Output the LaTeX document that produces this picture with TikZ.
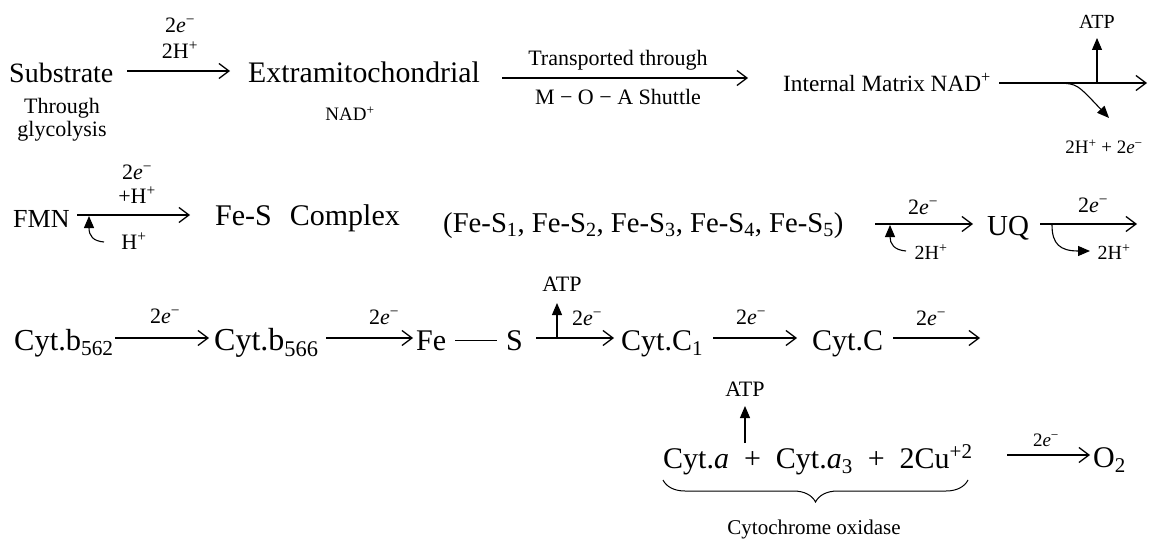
\documentclass[tikz,border=0pt]{standalone}
\usepackage{fontspec}
\setmainfont{Liberation Serif}
\usetikzlibrary{arrows.meta,decorations.pathreplacing}
\newcommand\mysz[1]{\fontsize{#1}{#1}\selectfont}
\newcommand\elec{2\textit{e}\textsuperscript{−}}
\tikzset{
  txt/.style={inner sep=0pt, anchor=base west},
  lbl/.style={inner sep=0pt, font=\mysz{22}},
  arr/.style={line width=1.3pt, -{Straight Barb[length=10pt,width=15pt,line width=1.3pt]}},
  tri/.style={line width=1.1pt, -{Triangle[length=12pt,width=10pt]}},
}
\begin{document}
\begin{tikzpicture}[x=1pt,y=-1pt]
\fill[white] (0,0) rectangle (1150,540);
\useasboundingbox (0,0) rectangle (1150,540);

% ---------- Row 1 ----------
\node[txt,font=\mysz{28}] (sub) at (9,83) {Substrate};
\node[lbl] (thr) at (62,108) {Through};
\node[lbl] (gly) at (62,131) {glycolysis};
\coordinate (a1s) at (127,71); \coordinate (a1e) at (230,71);
\draw[arr] (a1s) -- (a1e);
\node[lbl] (a1l1) at (180,25) {\elec};
\node[lbl] (a1l2) at (180,50) {2H\textsuperscript{+}};
\node[txt,font=\mysz{29.8}] (extra) at (248,83) {Extramitochondrial};
\node[lbl,font=\mysz{19}] (nad1) at (350,114) {NAD\textsuperscript{+}};
\coordinate (a2s) at (502,78); \coordinate (a2e) at (748,78);
\draw[arr] (a2s) -- (a2e);
\node[lbl] (a2l1) at (618,60) {Transported through};
\node[lbl] (a2l2) at (618,97) {M − O − A Shuttle};
\node[txt,font=\mysz{23.3}] (inm) at (783,92) {Internal Matrix NAD\textsuperscript{+}};
\coordinate (a3s) at (999,83); \coordinate (a3e) at (1147,83);
\draw[arr] (a3s) -- (a3e);
\coordinate (atp1b) at (1097,83); \coordinate (atp1t) at (1097,38);
\draw[tri] (atp1b) -- (atp1t);
\node[lbl,font=\mysz{20}] (atp1) at (1097,22) {ATP};
\coordinate (d1s) at (1060,83); \coordinate (d1e) at (1109,118);
\draw[tri] (d1s) .. controls (1077,84) .. (d1e);
\node[lbl,font=\mysz{19}] (hl1) at (1104,147) {2H\textsuperscript{+} + \elec};

% ---------- Row 2 ----------
\node[txt,font=\mysz{26}] (fmn) at (13,227) {FMN};
\coordinate (b1s) at (77,215); \coordinate (b1e) at (190,215);
\draw[arr] (b1s) -- (b1e);
\node[lbl] (b1l1) at (137,172) {\elec};
\node[lbl] (b1l2) at (137,195) {+H\textsuperscript{+}};
\coordinate (h1s) at (104,242); \coordinate (h1e) at (89,216);
\draw[tri] (h1s) .. controls (93,241) and (89,236) .. (h1e);
\node[lbl] (h1l) at (134,241) {H\textsuperscript{+}};
\node[txt,font=\mysz{30}] (fesc) at (215,225) {Fe-S\hspace{0.6em}Complex};
\node[txt,font=\mysz{28.7}] (fesl) at (443,232) {(Fe-S\textsubscript{1}, Fe-S\textsubscript{2}, Fe-S\textsubscript{3}, Fe-S\textsubscript{4}, Fe-S\textsubscript{5})};
\coordinate (b2s) at (875,224); \coordinate (b2e) at (973,224);
\draw[arr] (b2s) -- (b2e);
\node[lbl] (b2l) at (923,207) {\elec};
\coordinate (h2s) at (906,251); \coordinate (h2e) at (890,225);
\draw[tri] (h2s) .. controls (894,250) and (890,244) .. (h2e);
\node[lbl,font=\mysz{20}] (h2l) at (931,252) {2H\textsuperscript{+}};
\node[txt,font=\mysz{29}] (uq) at (987,235) {UQ};
\coordinate (b3s) at (1040,224); \coordinate (b3e) at (1137,224);
\draw[arr] (b3s) -- (b3e);
\node[lbl] (b3l) at (1093,205) {\elec};
\coordinate (h3s) at (1052,225); \coordinate (h3e) at (1090,251);
\draw[tri] (h3s) .. controls (1052,244) and (1060,251) .. (h3e);
\node[lbl,font=\mysz{20}] (h3l) at (1114,252) {2H\textsuperscript{+}};

% ---------- Row 3 ----------
\node[txt,font=\mysz{30.5}] (b562) at (14,350) {Cyt.b\textsubscript{562}};
\coordinate (c1s) at (115,338); \coordinate (c1e) at (209,338);
\draw[arr] (c1s) -- (c1e);
\node[lbl] (c1l) at (165,316) {\elec};
\node[txt,font=\mysz{32}] (b566) at (214,350) {Cyt.b\textsubscript{566}};
\coordinate (c2s) at (326,338); \coordinate (c2e) at (413,338);
\draw[arr] (c2s) -- (c2e);
\node[lbl] (c2l) at (384,317) {\elec};
\node[txt,font=\mysz{30}] (fes) at (416,350) {Fe\hspace{0.3em}\rule[0.3em]{1.4em}{0.05em}\hspace{0.3em}S};
\coordinate (c3s) at (536,338); \coordinate (c3e) at (614,338);
\draw[arr] (c3s) -- (c3e);
\coordinate (atp2b) at (557,338); \coordinate (atp2t) at (557,303);
\draw[tri] (atp2b) -- (atp2t);
\node[lbl,font=\mysz{22}] (atp2) at (562,284) {ATP};
\node[lbl] (c3l) at (587,318) {\elec};
\node[txt,font=\mysz{30}] (c1) at (621,350) {Cyt.C\textsubscript{1}};
\coordinate (c4s) at (713,338); \coordinate (c4e) at (797,338);
\draw[arr] (c4s) -- (c4e);
\node[lbl] (c4l) at (751,317) {\elec};
\node[txt,font=\mysz{30}] (cc) at (812,350) {Cyt.C};
\coordinate (c5s) at (893,338); \coordinate (c5e) at (980,338);
\draw[arr] (c5s) -- (c5e);
\node[lbl] (c5l) at (931,318) {\elec};

% ---------- Row 4 ----------
\node[txt,font=\mysz{30}] (cox) at (663,468) {Cyt.\textit{a}\enspace+\enspace Cyt.\textit{a}\textsubscript{3}\enspace+\enspace 2Cu\textsuperscript{+2}};
\coordinate (atp3b) at (745,443); \coordinate (atp3t) at (745,406);
\draw[tri] (atp3b) -- (atp3t);
\node[lbl,font=\mysz{22}] (atp3) at (745,389) {ATP};
\coordinate (d4s) at (1007,455); \coordinate (d4e) at (1090,455);
\draw[arr] (d4s) -- (d4e);
\node[lbl,font=\mysz{19}] (d4l) at (1046,440) {\elec};
\node[txt,font=\mysz{30}] (o2) at (1093,467) {O\textsubscript{2}};
\coordinate (brl) at (663,480); \coordinate (brr) at (968,480);
\draw[line width=1pt,decorate,decoration={brace,mirror,amplitude=22pt}] (brl) -- (brr);
\node[lbl,font=\mysz{21}] (coxl) at (814,529) {Cytochrome oxidase};
\end{tikzpicture}
\end{document}
